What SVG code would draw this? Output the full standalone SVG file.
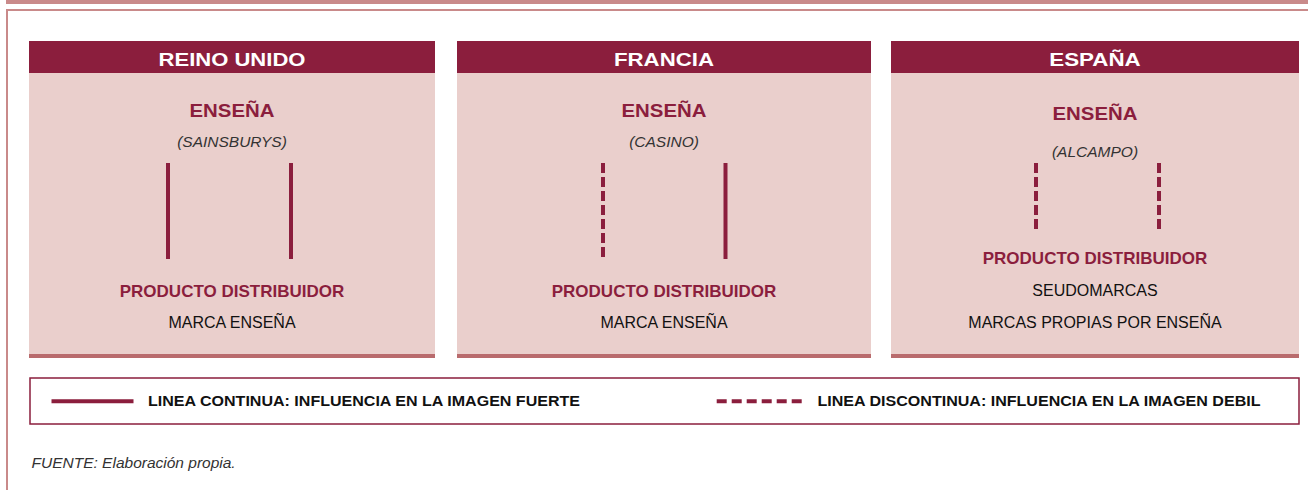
<svg xmlns="http://www.w3.org/2000/svg" width="1308" height="490" viewBox="0 0 1308 490">
<style>
.hdr{fill:#8b1e3d}
.body{fill:#eacfcc}
.bot{fill:#b96b6d}
.ht{font-family:"Liberation Sans",Arial,sans-serif;font-weight:bold;font-size:17.5px;fill:#ffffff;text-anchor:middle}
.en{font-family:"Liberation Sans",Arial,sans-serif;font-weight:bold;font-size:18px;fill:#8b1e3d;text-anchor:middle}
.it{font-family:"Liberation Sans",Arial,sans-serif;font-style:italic;font-size:15.5px;fill:#333333;text-anchor:middle}
.pd{font-family:"Liberation Sans",Arial,sans-serif;font-weight:bold;font-size:17px;fill:#8b1e3d;text-anchor:middle}
.rg{font-family:"Liberation Sans",Arial,sans-serif;font-size:16px;fill:#111111;text-anchor:middle}
.lg{font-family:"Liberation Sans",Arial,sans-serif;font-weight:bold;font-size:14.5px;fill:#111111}
.src{font-family:"Liberation Sans",Arial,sans-serif;font-style:italic;font-size:15.5px;fill:#333333}
.solid{stroke:#8b1e3d;stroke-width:4;fill:none}
.dash{stroke:#8b1e3d;stroke-width:4;fill:none;stroke-dasharray:10 4}
</style>
<rect x="6" y="0" width="1302" height="4" fill="#c98a8a"/>
<rect x="7" y="10" width="1310" height="490" fill="none" stroke="#c98a8a" stroke-width="2"/>

<g id="panel-reino-unido">
<rect class="body" x="29" y="41" width="406" height="314"/>
<rect class="hdr" x="29" y="41" width="406" height="32"/>
<rect class="bot" x="29" y="354" width="406" height="4"/>
<text class="ht" x="232" y="65.5" textLength="147" lengthAdjust="spacingAndGlyphs">REINO UNIDO</text>
<text class="en" x="232" y="116.5" textLength="85" lengthAdjust="spacingAndGlyphs">ENSEÑA</text>
<text class="it" x="232" y="146.5">(SAINSBURYS)</text>
<text class="pd" x="232" y="296.5">PRODUCTO DISTRIBUIDOR</text>
<text class="rg" x="232" y="328">MARCA ENSEÑA</text>
</g>

<g id="panel-francia">
<rect class="body" x="457" y="41" width="414" height="314"/>
<rect class="hdr" x="457" y="41" width="414" height="32"/>
<rect class="bot" x="457" y="354" width="414" height="4"/>
<text class="ht" x="664" y="65.5" textLength="100" lengthAdjust="spacingAndGlyphs">FRANCIA</text>
<text class="en" x="664" y="116.5" textLength="85" lengthAdjust="spacingAndGlyphs">ENSEÑA</text>
<text class="it" x="664" y="146.5">(CASINO)</text>
<text class="pd" x="664" y="296.5">PRODUCTO DISTRIBUIDOR</text>
<text class="rg" x="664" y="328">MARCA ENSEÑA</text>
</g>

<g id="panel-espana">
<rect class="body" x="891" y="41" width="408" height="314"/>
<rect class="hdr" x="891" y="41" width="408" height="32"/>
<rect class="bot" x="891" y="354" width="408" height="4"/>
<text class="ht" x="1095" y="65.5" textLength="91.5" lengthAdjust="spacingAndGlyphs">ESPAÑA</text>
<text class="en" x="1095" y="120" textLength="85" lengthAdjust="spacingAndGlyphs">ENSEÑA</text>
<text class="it" x="1095" y="156.5">(ALCAMPO)</text>
<text class="pd" x="1095" y="264">PRODUCTO DISTRIBUIDOR</text>
<text class="rg" x="1095" y="296">SEUDOMARCAS</text>
<text class="rg" x="1095" y="328">MARCAS PROPIAS POR ENSEÑA</text>
</g>

<g id="connectors">
<line class="solid" x1="168" y1="163" x2="168" y2="259"/>
<line class="solid" x1="291" y1="163" x2="291" y2="259"/>
<line class="dash" x1="603" y1="163" x2="603" y2="259"/>
<line class="solid" x1="725.5" y1="163" x2="725.5" y2="259"/>
<line class="dash" x1="1036" y1="163" x2="1036" y2="233"/>
<line class="dash" x1="1159" y1="163" x2="1159" y2="233"/>
</g>

<g id="legend">
<rect x="30" y="378" width="1269" height="46" fill="#ffffff" stroke="#8b1e3d" stroke-width="1.5"/>
<line x1="51.5" y1="401.3" x2="133.5" y2="401.3" stroke="#8b1e3d" stroke-width="4"/>
<text class="lg" x="148" y="405.5" textLength="432" lengthAdjust="spacingAndGlyphs">LINEA CONTINUA: INFLUENCIA EN LA IMAGEN FUERTE</text>
<line x1="716.7" y1="401.3" x2="801.7" y2="401.3" stroke="#8b1e3d" stroke-width="4" stroke-dasharray="10 5"/>
<text class="lg" x="817.5" y="405.5" textLength="443" lengthAdjust="spacingAndGlyphs">LINEA DISCONTINUA: INFLUENCIA EN LA IMAGEN DEBIL</text>
</g>

<text class="src" x="31.5" y="467.5">FUENTE: Elaboración propia.</text>
</svg>
